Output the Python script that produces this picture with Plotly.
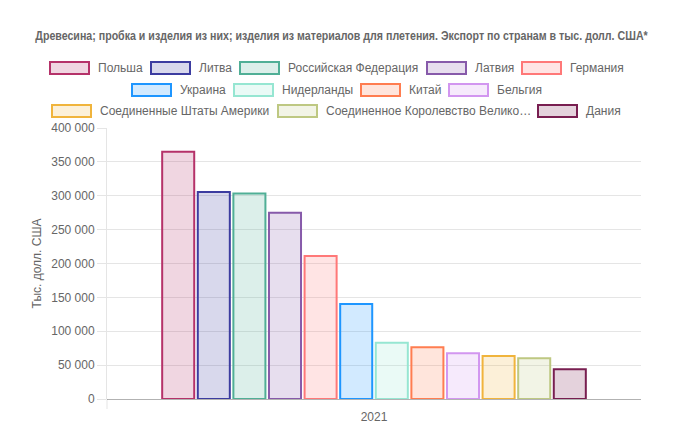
import plotly.graph_objects as go

years = ["2021"]
countries = [
    "Польша", "Литва", "Российская Федерация", "Латвия", "Германия",
    "Украина", "Нидерланды", "Китай", "Бельгия",
    "Соединенные Штаты Америки",
    "Соединенное Королевство Великобритании и Северной Ирландии", "Дания",
]
legend_labels = [
    "Польша", "Литва", "Российская Федерация", "Латвия", "Германия",
    "Украина", "Нидерланды", "Китай", "Бельгия",
    "Соединенные Штаты Америки", "Соединенное Королевство Велико…", "Дания",
]
values = [364800, 305700, 303400, 274800, 210900, 140100, 83000, 76300, 67400, 63400, 60000, 43800]

border_colors = [
    (181, 50, 105), (60, 60, 160), (80, 175, 150), (135, 90, 170), (255, 120, 120),
    (30, 150, 255), (150, 230, 210), (255, 125, 80), (210, 150, 240),
    (240, 180, 60), (190, 200, 130), (120, 30, 80),
]

title_text = "Древесина; пробка и изделия из них; изделия из материалов для плетения. Экспорт по странам в тыс. долл. США*"
y_title = "Тыс. долл. США"

W, H = 683, 444
L, R, T, B = 107, 42, 128, 45

def rgba(c, a):
    return f"rgba({c[0]},{c[1]},{c[2]},{a})"

fig = go.Figure()
for name, v, c in zip(countries, values, border_colors):
    fig.add_trace(go.Bar(
        x=years, y=[v], name=name,
        marker=dict(color=rgba(c, 0.2), line=dict(color=rgba(c, 1), width=2)),
        showlegend=False,
    ))

# custom Chart.js-style legend (layout only)
legend_rows = [
    (68, [0, 1, 2, 3, 4], [49, 150, 239, 426, 521]),
    (90, [5, 6, 7, 8], [131, 233, 360, 448]),
    (111, [9, 10, 11], [51, 277, 537]),
]
shapes = []
annotations = []
for yc, idxs, xs in legend_rows:
    for i, x0 in zip(idxs, xs):
        c = border_colors[i]
        shapes.append(dict(
            type="rect", xref="paper", yref="paper",
            x0=(x0 + 1 - L) / (W - L - R), x1=(x0 + 40 - L) / (W - L - R),
            y0=(H - B - (yc + 6)) / (H - T - B), y1=(H - B - (yc - 6)) / (H - T - B),
            fillcolor=rgba(c, 0.2), line=dict(color=rgba(c, 1), width=2),
        ))
        annotations.append(dict(
            text=legend_labels[i], xref="paper", yref="paper",
            x=(x0 + 47 - L) / (W - L - R), y=(H - B - yc) / (H - T - B),
            xanchor="left", yanchor="middle", showarrow=False,
            font=dict(family="Liberation Sans, Arial, sans-serif", size=12, color="#666666"),
        ))

# left boundary tick below the axis
shapes.append(dict(type="line", xref="paper", yref="paper", x0=0, x1=0,
                   y0=0, y1=-10 / (H - T - B), line=dict(color="rgba(0,0,0,0.1)", width=1)))

fig.update_layout(
    width=W, height=H,
    margin=dict(l=L, r=R, t=T, b=B),
    paper_bgcolor="white", plot_bgcolor="white",
    barmode="group", bargap=0.2, bargroupgap=0.1,
    separators=", ",
    font=dict(family="Liberation Sans, Arial, sans-serif", size=12, color="#666666"),
    title=dict(
        text="<b>" + title_text + "</b>", x=0.5, xanchor="center",
        y=1 - 36 / H, yanchor="middle",
        font=dict(family="Liberation Sans, Arial, sans-serif", size=12, color="#666666"),
    ),
    shapes=shapes, annotations=annotations,
    xaxis=dict(
        type="category", showgrid=False, showline=False,
        ticks="outside", ticklen=7, tickcolor="rgba(0,0,0,0)",
        tickfont=dict(size=12, color="#666666"),
    ),
    yaxis=dict(
        range=[0, 400000], dtick=50000, tickformat=",d",
        showgrid=True, gridcolor="rgba(0,0,0,0.1)", gridwidth=1,
        zeroline=True, zerolinecolor="rgba(0,0,0,0.3)", zerolinewidth=1,
        showline=True, linecolor="rgba(0,0,0,0.1)", linewidth=1,
        ticks="outside", ticklen=9, tickcolor="rgba(0,0,0,0.1)",
        tickfont=dict(size=12, color="#666666"),
        title=dict(text=y_title, standoff=7, font=dict(size=12, color="#666666")),
    ),
)

post = """
document.body.style.margin = '0';
var t = document.querySelector('.gtitle');
if (t) {
  var w = t.getComputedTextLength();
  var target = 613;
  if (w > target) {
    var s = target / w;
    var cx = parseFloat(t.getAttribute('x')) || 341.5;
    t.setAttribute('transform', 'translate(' + cx + ',0) scale(' + s + ',1) translate(' + (-cx) + ',0)');
  }
}
"""

fig.write_html("out.html", config={"displayModeBar": False}, post_script=post)
